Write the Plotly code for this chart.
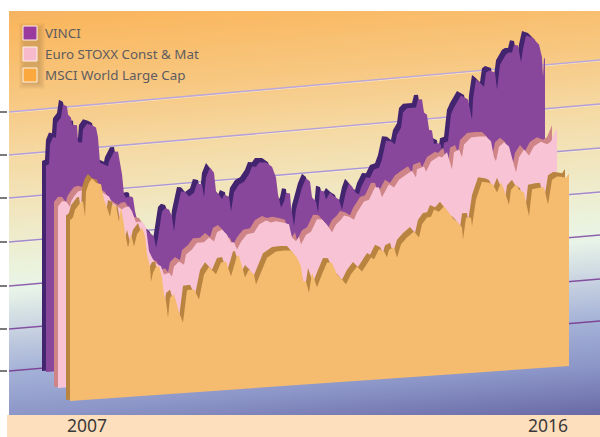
import numpy as np
import plotly.graph_objects as go

# Data (weeks since Jan 2007, index height)
vinci_weeks = [0,3,4,7,10,11,15,17,21,22,25,26,31,32,36,37,41,46,50,52,53,54,58,62,63,68,72,74,76,78,80,85,87,89,91,97,103,108,110,112,116,119,123,126,128,130,135,139,143,148,151,156,158,160,164,168,170,173,176,178,183,185,188,193,198,203,206,210,213,220,226,230,232,235,238,240,244,245,248,250,256,260,264,266,270,272,274,278,280,284,288,293,296,300,303,306,310,313,315,320,324,328,333,336,340,345,349,351,355,357,361,370,372,376,378,381,383,386,388,391,395,396,398,402,405,408,415,418,422,426,427,430,433,438,440,443,449,451,454,460,463,466,468,472,475,477,480,486,493,496,497,498,499]
vinci_values = [208,209,229,236,235,250,255,268,265.5,257.5,254,247,246,229,228.5,241.5,247,245,242.5,232.5,218,207,205,203,207.5,217,217,207,194,173.5,170.5,171,170,156,148,140,134,129.5,118,128,154,157,155.5,148,133,150,172.5,172,167,170.5,179.5,178,165,185,194.5,189,170,167,162,166.5,164,149,168,175.5,178,185,192.5,192,196,195.5,191,180,163,149.5,155,164,163,150,130,146.5,168,177,173.5,157.5,153,142,164,162.5,154.5,161,157,153.5,143,161,169,165.5,159,157,164,173.5,173,181,182.5,190.5,209,208,204.5,214.5,221,236,240,240,248,248,234.5,232,217,216,202,203.5,201,189,203,204,231,237.5,249,247,244.5,224,244,264,261.5,256,270,272,269.5,252.5,277,287,288.5,288.5,296,295,278,291,304.5,302,294.5,281.5,262,281.5,279]
stoxx_weeks = [0,4,8,12,13,16,20,24,28,36,46,51,54,64,67,71,74,78,80,85,88,91,94,97,103,106,111,114,116,121,126,128,134,139,146,151,156,159,164,169,173,176,179,183,189,196,201,208,213,218,226,231,234,238,241,243,248,253,259,264,269,274,278,283,286,291,296,299,306,311,317,321,324,327,331,336,341,348,354,358,359,366,368,373,376,381,384,389,394,396,401,404,406,413,421,428,433,436,438,441,446,451,454,458,461,466,471,476,483,489,493,498]
stoxx_values = [183,188,187.5,182,187,192,196.5,197.5,196,199.5,193,189.5,183,175.5,177.5,178,173,161.5,162.5,161,156,132,125.5,120,116,107.5,109,105,115,119.5,116,126,130.5,137,137,141.5,137,146,148.5,143,135,135,127.5,135,142,143,151,154.5,152,153,151,149,135.5,131.5,136,128,137.5,140,152,151.5,146,138,145.5,150,154,152.5,149,156,166.5,168,180,179.5,169.5,175,182,178.5,186,190.5,194,187,195,197.5,192,202,203.5,206.5,205,210,192.5,209.5,212,204,216.5,223,223.5,223,218,201.5,197.5,212,216,211.5,200,185,200,207.5,201,210,214,211,213.5,225]
msci_weeks = [1,3,5,11,13,15,16,19,22,26,31,34,37,40,42,46,49,51,54,55,58,61,64,67,72,75,77,80,81,83,86,89,92,94,96,98,100,104,107,109,113,117,124,129,134,139,146,151,156,161,167,169,172,175,179,184,186,197,206,214,221,227,231,233,236,239,242,247,252,257,262,267,272,276,281,287,292,301,304,309,314,317,319,324,327,331,337,344,349,352,357,361,364,369,374,379,384,387,392,393,396,401,402,406,412,419,423,427,431,434,439,441,446,449,454,459,462,469,474,478,482,487,491,496,499]
msci_values = [183,185,192.5,200,200,185,210,218.5,222.5,218,216,200.5,192.5,183,195,193,177.5,191.5,174,166,151,164,151.5,163.5,170,161,142.5,130.5,115,124,130,130,118.5,101.5,94.5,78,98,101,90.5,82.5,72,104,104.5,94,118.5,126,118,129.5,130,115,135,135,124,113,120.5,115,105,131,136.5,137,136.5,129,120,105,104.5,93,113,98,110.5,122,121.5,109,104,99,108.5,116,110.5,124,122,131.5,129,123,130.5,132.5,122,135,141.5,147,140.5,153.5,160,160.5,167.5,165,170,163.5,156,154,147.5,135.5,157,157,148,174.5,192,190.5,188.5,180,190,182.5,167,182,187,181.5,178,154,181,182,182,164.5,189,192,191.5,190,194]

series_names = ["VINCI", "Euro STOXX Const & Mat", "MSCI World Large Cap"]
tick_years = ["2007", "2016"]
tick_weeks = [17, 478]
grid_left = [112, 155, 198, 242, 286, 329, 371]
grid_right = [60, 104, 148, 192, 235, 279, 321]

# Layout constants (pixels of a 600x437 page)
PL, PR, PT, PB = 9, 600, 11, 415
W, H = PR - PL, PB - PT
SLOPE = 0.07
DX, DY = -4, -4.5
TOP_SHIFT = 1.5
front_color = ["#89479b", "#f8c4d5", "#f5bb6f"]
dark_color = ["#43246f", "#cf8587", "#b98440"]
swatch_color = ["#9a3a9e", "#f7bacd", "#fba93f"]
origin = [(46, 372), (58, 388), (70, 401)]

def sx(x):
    return np.asarray(x, float) - PL
def sy(y):
    return PB - np.asarray(y, float)

fig = go.Figure()

# Background wall: tilted vertical gradient
gx = np.linspace(PL, PR, 80)
gy = np.linspace(PT, PB, 140)
XX, YY = np.meshgrid(gx, gy)
S = YY + 0.085 * (XX - PL)
stops = [(0, (238,178,105)), (25, (250,183,95)), (100, (247,200,130)), (160, (245,218,165)),
         (220, (240,232,195)), (270, (235,243,222)), (290, (232,244,232)), (330, (200,210,225)),
         (370, (165,178,215)), (415, (140,150,200)), (465, (105,105,165))]
smax = stops[-1][0]
fig.add_trace(go.Heatmap(x=sx(gx), y=sy(gy), z=S, zmin=0, zmax=smax, zsmooth="best", showscale=False,
                         hoverinfo="skip",
                         colorscale=[[s / smax, f"rgb{c}"] for s, c in stops]))

# Grid lines on the back wall
grid_cols = ["#b9a7dc", "#b49fda", "#ab96d6", "#a288cc", "#8f62ae", "#834e9f", "#7c4597"]
for i, (yl, yr) in enumerate(zip(grid_left, grid_right)):
    if i < 4:
        fig.add_trace(go.Scatter(x=sx([PL, PR]), y=sy([yl + 1, yr + 1]), mode="lines", hoverinfo="skip",
                                 line=dict(color="rgba(255,255,255,0.45)", width=1), showlegend=False))
    fig.add_trace(go.Scatter(x=sx([PL, PR]), y=sy([yl, yr]), mode="lines", hoverinfo="skip",
                             line=dict(color=grid_cols[i], width=1.4), showlegend=False))

# Three extruded area series
for k, (w, v) in enumerate([(vinci_weeks, vinci_values), (stoxx_weeks, stoxx_values), (msci_weeks, msci_values)]):
    x0, y0 = origin[k]
    w = np.asarray(w, float)
    v = np.asarray(v, float)
    fx = x0 + w
    fy = y0 - SLOPE * w - v + TOP_SHIFT
    tend = 499
    bx0, by0 = x0, y0
    bx1, by1 = x0 + tend, y0 - SLOPE * tend
    px = np.r_[bx0 + DX, bx0 + DX, fx + DX, bx1 + DX, bx0 + DX]
    py = np.r_[by0 - 1, fy[0] + DY, fy + DY, by1 - 1, by0 - 1]
    fig.add_trace(go.Scatter(x=sx(px), y=sy(py), mode="lines", fill="toself", fillcolor=dark_color[k],
                             line=dict(width=0, color=dark_color[k]), hoverinfo="skip", showlegend=False))
    px = np.r_[bx0, bx0, fx, bx1, bx1, bx0]
    py = np.r_[by0, fy[0], fy, fy[-1], by1, by0]
    fig.add_trace(go.Scatter(x=sx(px), y=sy(py), mode="lines", fill="toself", fillcolor=front_color[k],
                             line=dict(width=0, color=front_color[k]), name=series_names[k],
                             hoverinfo="name", showlegend=False))

shapes = []
def pxrect(x0, y0, x1, y1, **kw):
    shapes.append(dict(type="rect", xref="x", yref="y", x0=float(sx(x0)), x1=float(sx(x1)),
                       y0=float(sy(y0)), y1=float(sy(y1)), **kw))

shapes.append(dict(type="rect", xref="paper", yref="paper", x0=0, x1=1, y0=-(437 - PB) / H, y1=0,
                   fillcolor="#fedfbd", line_width=0, layer="below"))

# Legend swatches with soft shadow
ys = [33, 54, 75]
for e in range(6, 0, -1):
    pxrect(25 - e, 29 - e, 39 + e, 83 + e, fillcolor="rgba(90,70,40,0.04)", line_width=0)
for k, yc in enumerate(ys):
    pxrect(23, yc - 7, 37, yc + 7, fillcolor=swatch_color[k], line=dict(color="#fff3e4", width=1))

anns = [dict(xref="x", yref="y", x=float(sx(45)), y=float(sy(yc)), text=series_names[k], showarrow=False,
             xanchor="left", yanchor="middle", xshift=-2, font=dict(family="Noto Sans", size=13.4, color="#5e5c60"))
        for k, yc in enumerate(ys)]

year_x = [float(sx(70 + t)) for t in tick_weeks]
fig.update_layout(
    width=600, height=437, autosize=False,
    margin=dict(l=7, r=0, t=PT, b=437 - PB, pad=0),
    paper_bgcolor="white", plot_bgcolor="rgba(0,0,0,0)",
    showlegend=False, shapes=shapes, annotations=anns,
    xaxis=dict(range=[0, W], domain=[2 / 593, 1], showgrid=False, zeroline=False, showline=False,
               tickmode="array", tickvals=year_x, ticktext=tick_years, ticks="", ticklabelstandoff=-2,
               tickfont=dict(family="Noto Sans", size=17.5, color="#3a3a3a"), fixedrange=True),
    yaxis=dict(range=[0, H], showgrid=False, zeroline=False, showline=False, anchor="free", position=0,
               tickmode="array", tickvals=[float(sy(v)) for v in grid_left], ticktext=[""] * 7,
               ticks="outside", ticklen=7, tickwidth=1.5, tickcolor="#7a7a7a", fixedrange=True),
)
fig.write_html("out.html", config={"displayModeBar": False},
               post_script="document.body.style.margin='0';document.documentElement.style.overflow='hidden';")
